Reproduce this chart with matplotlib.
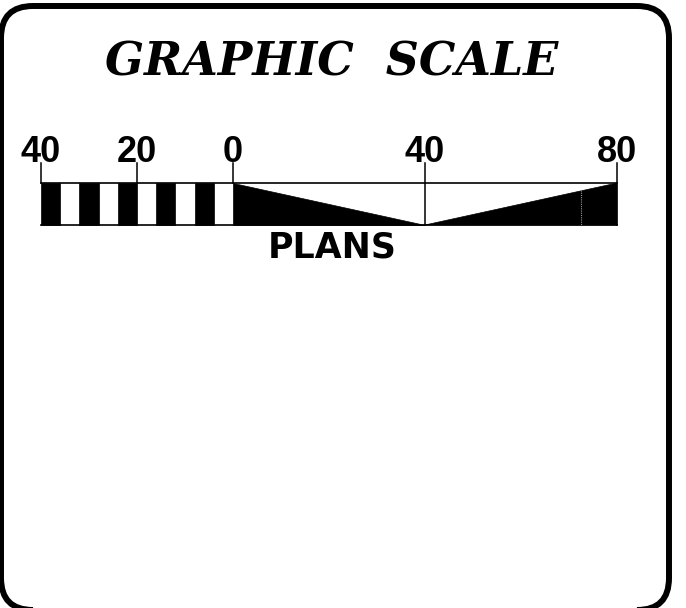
import matplotlib
matplotlib.use("Agg")
import matplotlib.pyplot as plt
from matplotlib.patches import FancyBboxPatch, Rectangle, Polygon

# ---- data ----
title = "GRAPHIC  SCALE"
caption = "PLANS"
tick_values = [-40, -20, 0, 40, 80]
tick_labels = ["40", "20", "0", "40", "80"]
checker_starts = [-40, -32, -24, -16, -8]   # black cells, 4 units wide
checker_width = 4
triangles = [[(0, 0), (0, 1), (40, 1)],        # (x, 0=top / 1=bottom)
             [(40, 1), (80, 0), (80, 1)]]
long_ticks = [40, 80]
inner_mark = 72.5

W, H = 686, 608
fig = plt.figure(figsize=(W / 100, H / 100), dpi=100)

# decor axes in pixel coords (y up)
ax0 = fig.add_axes([0, 0, 1, 1])
ax0.set_xlim(0, W)
ax0.set_ylim(0, H)
ax0.axis("off")
border = FancyBboxPatch((1, H - 610), 668, 604, boxstyle="round,pad=0,rounding_size=32",
                        fill=False, ec="black", lw=4.3, joinstyle="round")
ax0.add_patch(border)

# scale axes: x in scale units, y in pixel rows
px0, ppu = 233, 4.8
ax = fig.add_axes([0, 0, 1, 1])
ax.set_xlim(-px0 / ppu, (W - px0) / ppu)
ax.set_ylim(H, 0)
ax.axis("off")

top, bot = 183, 225
tick_top = 163
ypos = lambda f: top + f * (bot - top)

for s in checker_starts:
    ax.add_patch(Rectangle((s, top), checker_width, bot - top, fc="black", ec="black", lw=0.5))
for tri in triangles:
    ax.add_patch(Polygon([(x, ypos(f)) for x, f in tri], closed=True, fc="black", ec="black", lw=0.5))

ax.plot([tick_values[0], tick_values[-1]], [top, top], color="black", lw=1.2)
ax.plot([tick_values[0], tick_values[-1]], [bot, bot], color="black", lw=1.2)
for v in tick_values:
    y2 = bot if v in long_ticks else top
    ax.plot([v, v], [tick_top, y2], color="black", lw=1.1)
ax.plot([inner_mark, inner_mark], [190, bot], color="#999999", lw=0.8, ls=(0, (1, 1)))

for v, lab in zip(tick_values, tick_labels):
    ax.text(v, 162, lab, ha="center", va="baseline", fontsize=26,
            family="Liberation Sans", fontweight="bold")

ax.text(20.6, 258, caption, ha="center", va="baseline", fontsize=25,
        family="DejaVu Sans", fontweight="bold")

ax0.text(332, H - 76, title, ha="center", va="baseline", fontsize=33,
         family="DejaVu Serif", fontweight="bold", fontstyle="italic")

fig.savefig("out.png", dpi=100)
